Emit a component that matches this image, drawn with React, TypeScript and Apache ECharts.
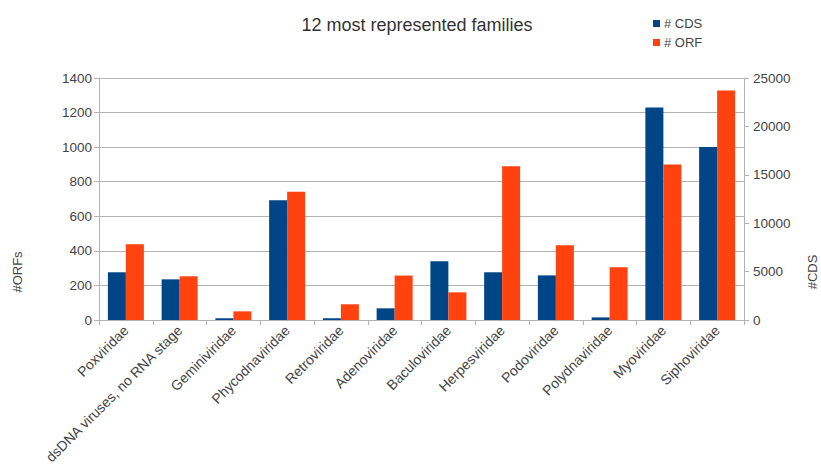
import React, { useEffect, useRef } from "react";
import * as echarts from "echarts";

const categories = [
  "Poxviridae",
  "dsDNA viruses, no RNA stage",
  "Geminiviridae",
  "Phycodnaviridae",
  "Retroviridae",
  "Adenoviridae",
  "Baculoviridae",
  "Herpesviridae",
  "Podoviridae",
  "Polydnaviridae",
  "Myoviridae",
  "Siphoviridae",
];
// # CDS (right axis)
const cdsValues = [4930, 4200, 180, 12360, 180, 1205, 6060, 4930, 4610, 270, 21960, 17880];
// # ORF (left axis)
const orfValues = [438, 253, 50, 742, 91, 257, 160, 889, 432, 305, 900, 1328];

const FONT = "'Liberation Sans', Arial, sans-serif";
const TXT = "#444444";
const GRID = "#b3b3b3";

export default function App() {
  const ref = useRef<HTMLDivElement>(null);
  useEffect(() => {
    if (!ref.current) return;
    const chart = echarts.init(ref.current, undefined, { renderer: "svg" });
    chart.setOption({
      animation: false,
      backgroundColor: "#ffffff",
      textStyle: { fontFamily: FONT },
      title: {
        text: "12 most represented families",
        left: 412,
        top: 11,
        textAlign: "center",
        textStyle: { fontFamily: FONT, fontSize: 18, fontWeight: "normal", color: "#333333" },
      },
      legend: {
        orient: "vertical",
        left: 648,
        top: 12,
        itemWidth: 7,
        itemHeight: 7,
        itemGap: 6,
        icon: "rect",
        textStyle: { fontFamily: FONT, fontSize: 13, color: TXT, padding: [0, 0, 0, -1] },
        data: ["# CDS", "# ORF"],
      },
      grid: { left: 99, right: 77, top: 78, bottom: 151, containLabel: false },
      xAxis: {
        type: "category",
        data: categories,
        axisLine: { lineStyle: { color: GRID, width: 1 } },
        axisTick: { show: true, length: 5, lineStyle: { color: GRID } },
        axisLabel: {
          rotate: 45,
          interval: 0,
          fontFamily: FONT,
          fontSize: 14,
          color: TXT,
          margin: 8,
        },
      },
      yAxis: [
        {
          type: "value",
          min: 0,
          max: 1400,
          interval: 200,
          axisLine: { show: true, lineStyle: { color: GRID } },
          axisTick: { show: true, length: 5, lineStyle: { color: GRID } },
          splitLine: { show: true, lineStyle: { color: GRID } },
          axisLabel: {
            fontFamily: FONT,
            fontSize: 13.5,
            color: TXT,
            margin: 7,
            formatter: (v: number) => String(v),
          },
        },
        {
          type: "value",
          min: 0,
          max: 25000,
          interval: 5000,
          position: "right",
          axisLine: { show: true, lineStyle: { color: GRID } },
          axisTick: { show: true, length: 5, lineStyle: { color: GRID } },
          splitLine: { show: false },
          axisLabel: {
            fontFamily: FONT,
            fontSize: 13.5,
            color: TXT,
            margin: 9,
            formatter: (v: number) => String(v),
          },
        },
      ],
      graphic: [
        {
          type: "text",
          x: 17,
          y: 272,
          rotation: Math.PI / 2,
          style: {
            text: "#ORFs",
            fill: TXT,
            font: "13px " + FONT,
            textAlign: "center",
            textVerticalAlign: "middle",
          },
        },
        {
          type: "text",
          x: 812,
          y: 272,
          rotation: Math.PI / 2,
          style: {
            text: "#CDS",
            fill: TXT,
            font: "13px " + FONT,
            textAlign: "center",
            textVerticalAlign: "middle",
          },
        },
      ],
      series: [
        {
          name: "# CDS",
          type: "bar",
          yAxisIndex: 1,
          data: cdsValues,
          barWidth: 18,
          barGap: "0%",
          itemStyle: { color: "#004586" },
        },
        {
          name: "# ORF",
          type: "bar",
          yAxisIndex: 0,
          data: orfValues,
          barWidth: 18,
          barGap: "0%",
          itemStyle: { color: "#ff420e" },
        },
      ],
    });
    return () => chart.dispose();
  }, []);
  return (
    <div
      ref={ref}
      style={{ position: "fixed", left: 0, top: 0, width: 821, height: 471 }}
    />
  );
}
